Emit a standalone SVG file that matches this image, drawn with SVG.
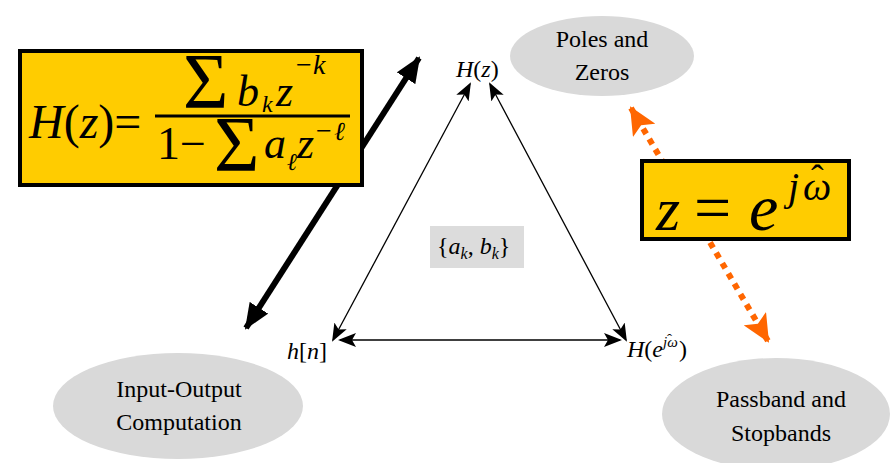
<svg xmlns="http://www.w3.org/2000/svg" width="894" height="463" viewBox="0 0 894 463">
<style>
.ell{fill:#d9d9d9;stroke:none}
.lbl{font-family:"Liberation Serif","Times New Roman",serif;font-size:24px;fill:#000;text-anchor:middle}
.m{font-family:"Liberation Serif","Times New Roman",serif;font-style:italic;fill:#000}
.r{font-family:"Liberation Serif","Times New Roman",serif;font-style:normal;fill:#000}
.box{fill:#ffcc00;stroke:#000;stroke-width:4}
.thin{stroke:#000;stroke-width:1.3;fill:none}
.thick{stroke:#000;stroke-width:6;fill:none}
.dot{stroke:#ff6600;stroke-width:6;stroke-dasharray:6 6;fill:none}
</style>
<defs>
<marker id="ah" markerUnits="userSpaceOnUse" markerWidth="18" markerHeight="14" refX="16" refY="7" orient="auto-start-reverse" viewBox="0 0 18 14"><path d="M0,0 L18,7 L0,14 L4,7 Z" fill="#000"/></marker>
<marker id="ahb" markerUnits="userSpaceOnUse" markerWidth="26" markerHeight="22" refX="24" refY="11" orient="auto-start-reverse" viewBox="0 0 26 22"><path d="M0,0 L26,11 L0,22 Z" fill="#000"/></marker>
<marker id="aho" markerUnits="userSpaceOnUse" markerWidth="28" markerHeight="26" refX="26" refY="13" orient="auto-start-reverse" viewBox="0 0 28 26"><path d="M0,0 L28,13 L0,26 L6,13 Z" fill="#ff6600"/></marker>
</defs>
<g id="poles"><ellipse class="ell" cx="602" cy="56" rx="92" ry="40"/><text class="lbl" x="602" y="47">Poles and</text><text class="lbl" x="602" y="80">Zeros</text></g>
<g id="io"><ellipse class="ell" cx="178" cy="406" rx="125" ry="53"/><text class="lbl" x="179" y="397">Input-Output</text><text class="lbl" x="179" y="430">Computation</text></g>
<g id="pass"><ellipse class="ell" cx="776" cy="414" rx="114" ry="56"/><text class="lbl" x="781" y="407">Passband and</text><text class="lbl" x="781" y="441">Stopbands</text></g>
<g id="coef"><rect x="430" y="226" width="94" height="42" fill="#dcdcdc"/><text class="m" x="437" y="254" font-size="24"><tspan class="r">{</tspan>a<tspan font-size="16" dy="5">k</tspan><tspan class="r" dy="-5">, </tspan>b<tspan font-size="16" dy="5">k</tspan><tspan class="r" dy="-5">}</tspan></text></g>
<g id="Hz"><text class="m" x="456" y="77" font-size="24">H<tspan class="r">(</tspan>z<tspan class="r">)</tspan></text></g>
<g id="hn"><text class="m" x="287" y="359" font-size="24">h<tspan class="r">[</tspan>n<tspan class="r">]</tspan></text></g>
<g id="Hejw"><text class="m" x="627" y="357" font-size="24">H<tspan class="r">(</tspan>e<tspan font-size="15" dy="-10">jω</tspan><tspan class="r" font-size="15" x="667" y="344">ˆ</tspan><tspan class="r" x="679" y="357">)</tspan></text></g>
<g id="connectors">
<line class="thin" x1="470" y1="84" x2="333" y2="340" marker-start="url(#ah)" marker-end="url(#ah)"/>
<line class="thin" x1="490" y1="84" x2="626" y2="340" marker-start="url(#ah)" marker-end="url(#ah)"/>
<line class="thin" x1="340" y1="340" x2="620" y2="340" marker-start="url(#ah)" marker-end="url(#ah)"/>
<line class="thick" x1="246" y1="328" x2="419" y2="58" marker-start="url(#ahb)" marker-end="url(#ahb)"/>
<line class="dot" x1="631" y1="108" x2="768" y2="341" marker-start="url(#aho)" marker-end="url(#aho)"/>
</g>
<g id="formula1"><rect class="box" x="20" y="51" width="342" height="134"/>
<text class="m" x="29" y="138" font-size="48">H<tspan class="r">(</tspan>z<tspan class="r">)=</tspan></text>
<line x1="155" y1="116" x2="350" y2="116" stroke="#000" stroke-width="3"/>
<text class="m" font-size="44"><tspan class="r" x="183" y="107" font-size="78">Σ</tspan><tspan x="237" y="106">b</tspan><tspan x="262" y="112" font-size="24">k</tspan><tspan x="276" y="106">z</tspan><tspan class="r" x="296" y="74" font-size="28">−</tspan><tspan x="313" y="74" font-size="28">k</tspan></text>
<text class="m" font-size="44"><tspan class="r" x="157" y="159" font-size="46">1−</tspan><tspan class="r" x="214" y="170" font-size="78">Σ</tspan><tspan x="264" y="158">a</tspan><tspan x="287" y="170" font-size="24">ℓ</tspan><tspan x="297" y="158">z</tspan><tspan class="r" x="316" y="140" font-size="28">−</tspan><tspan x="334" y="140" font-size="26">ℓ</tspan></text>
</g>
<g id="formula2"><rect class="box" x="642" y="161" width="207" height="78"/>
<text class="m" font-size="66"><tspan x="656" y="230" font-size="62">z</tspan><tspan class="r" x="694" y="230">=</tspan><tspan x="749" y="230">e</tspan><tspan x="788" y="200" font-size="40">j</tspan><tspan x="803" y="200" font-size="40">ω</tspan><tspan class="r" x="811" y="191" font-size="38">ˆ</tspan></text>
</g>
</svg>
